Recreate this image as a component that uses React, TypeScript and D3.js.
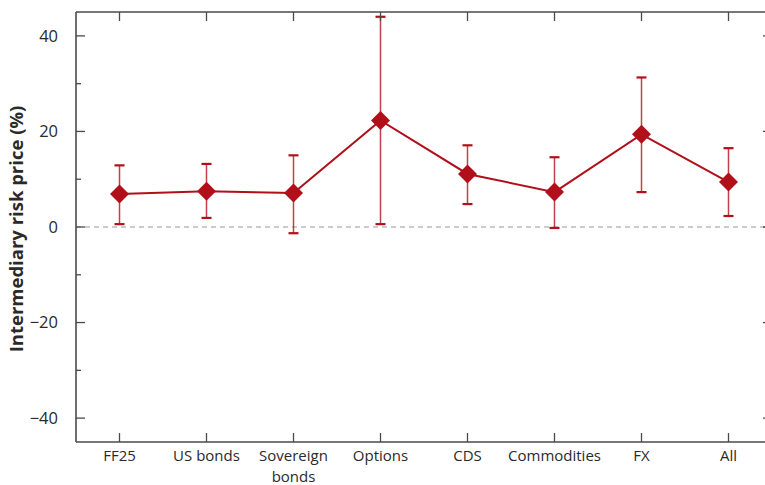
import React from "react";
import * as d3 from "d3";

const categories = ["FF25", "US bonds", "Sovereign\nbonds", "Options", "CDS", "Commodities", "FX", "All"];
const estimates = [6.9, 7.5, 7.1, 22.3, 11.1, 7.3, 19.4, 9.4];
const upper = [12.9, 13.2, 15.0, 44.0, 17.1, 14.6, 31.3, 16.5];
const lower = [0.6, 1.9, -1.3, 0.6, 4.8, -0.2, 7.3, 2.3];
const majorTicks = [-40, -20, 0, 20, 40];
const minorTicks = [-30, -10, 10, 30];

const W = 765, H = 485;
const left = 76, right = 772, top = 12, bottom = 442;
const RED = "#b1101b";
const AX = "#4a4a4a";
const FONT = "'Open Sans', 'DejaVu Sans', sans-serif";

export default function App() {
  const y = d3.scaleLinear().domain([-45, 45]).range([bottom, top]);
  const x = d3.scalePoint<string>().domain(categories).range([left, right]).padding(0.5);
  const line = d3.line<number>().x((_, i) => x(categories[i])!).y((d) => y(d));
  const pts = estimates.map((v, i) => ({ cx: x(categories[i])!, cy: y(v) }));
  const d = 9.5;
  return (
    <svg width={W} height={H} style={{ position: "absolute", left: 0, top: 0 }}>
      <rect x={0} y={0} width={W} height={H} fill="#fff" />
      <line x1={left} x2={right} y1={y(0)} y2={y(0)} stroke="#9a9a9a" strokeWidth={1.2} strokeDasharray="5,4" />
      {categories.map((c, i) => (
        <g key={"e" + i} stroke={RED}>
          <line x1={x(c)} x2={x(c)} y1={y(upper[i])} y2={y(lower[i])} strokeWidth={1.5} strokeOpacity={0.8} />
          <line x1={x(c)! - 5} x2={x(c)! + 5} y1={y(upper[i])} y2={y(upper[i])} strokeWidth={2.2} />
          <line x1={x(c)! - 5} x2={x(c)! + 5} y1={y(lower[i])} y2={y(lower[i])} strokeWidth={2.2} />
        </g>
      ))}
      <path d={line(estimates)!} fill="none" stroke={RED} strokeWidth={2} />
      {pts.map((p, i) => (
        <path key={"m" + i} d={`M${p.cx},${p.cy - d}L${p.cx + d},${p.cy}L${p.cx},${p.cy + d}L${p.cx - d},${p.cy}Z`} fill={RED} />
      ))}
      <g stroke={AX} strokeWidth={1.6} fill="none">
        <line x1={left} x2={left} y1={top} y2={bottom} />
        <line x1={left} x2={right} y1={bottom} y2={bottom} />
        <line x1={left} x2={right} y1={top} y2={top} />
        <line x1={right} x2={right} y1={top} y2={bottom} />
      </g>
      <g stroke={AX} strokeWidth={1.3}>
        {majorTicks.map((t) => (
          <g key={"mt" + t}>
            <line x1={left} x2={left + 9} y1={y(t)} y2={y(t)} />
            <line x1={right} x2={right - 9} y1={y(t)} y2={y(t)} />
          </g>
        ))}
        {minorTicks.map((t) => (
          <g key={"nt" + t}>
            <line x1={left} x2={left + 5} y1={y(t)} y2={y(t)} />
            <line x1={right} x2={right - 5} y1={y(t)} y2={y(t)} />
          </g>
        ))}
        {categories.map((c) => (
          <g key={"xt" + c}>
            <line x1={x(c)} x2={x(c)} y1={bottom} y2={bottom - 9} />
            <line x1={x(c)} x2={x(c)} y1={top} y2={top + 9} />
          </g>
        ))}
      </g>
      <g fontFamily={FONT} fill="#2a2a2a">
        {majorTicks.map((t) => (
          <text key={"yl" + t} x={58} y={y(t)} dy="0.36em" textAnchor="end" fontSize={16.5}>
            {t < 0 ? "\u2212" + Math.abs(t) : String(t)}
          </text>
        ))}
        {categories.map((c) =>
          c.split("\n").map((s, j) => (
            <text key={"xl" + c + j} x={x(c)} y={461 + j * 20.5} textAnchor="middle" fontSize={15}>
              {s}
            </text>
          ))
        )}
      </g>
      <text
        transform={`translate(23,${(top + bottom) / 2 + 2}) rotate(-90)`}
        textAnchor="middle"
        fontFamily={FONT}
        fontWeight="bold"
        fontSize={18.5}
        fill="#2a2a2a"
      >
        Intermediary risk price (%)
      </text>
    </svg>
  );
}
